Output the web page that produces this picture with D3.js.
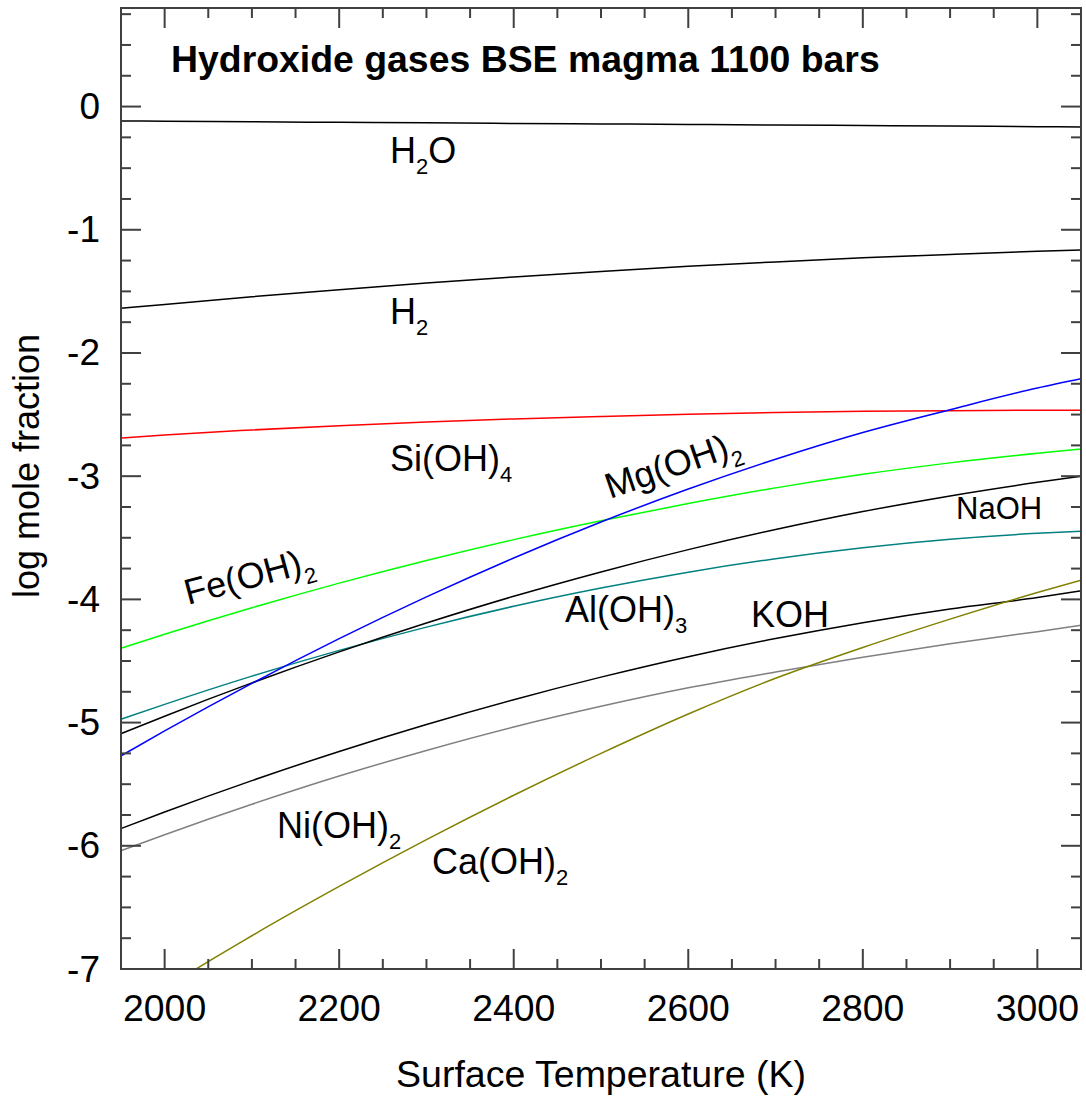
<!DOCTYPE html>
<html><head><meta charset="utf-8">
<script src="https://cdn.jsdelivr.net/npm/d3@7"></script>
<style>body{margin:0;background:#fff}svg{display:block}text{font-family:"Liberation Sans",Arial,sans-serif}</style>
</head><body>
<script>
const temps = [1950,2000,2100,2200,2300,2400,2500,2600,2700,2800,2900,3000,3050];
const h2o   = [-0.117,-0.119,-0.124,-0.128,-0.132,-0.137,-0.141,-0.145,-0.150,-0.154,-0.158,-0.163,-0.165];
const h2    = [-1.638,-1.606,-1.544,-1.486,-1.433,-1.383,-1.338,-1.297,-1.261,-1.228,-1.200,-1.175,-1.165];
const sioh4 = [-2.690,-2.665,-2.625,-2.590,-2.560,-2.535,-2.515,-2.497,-2.483,-2.474,-2.468,-2.465,-2.465];
const mgoh2 = [-5.270,-5.068,-4.682,-4.319,-3.980,-3.664,-3.372,-3.104,-2.862,-2.645,-2.460,-2.285,-2.210];
const feoh2 = [-4.396,-4.283,-4.068,-3.868,-3.684,-3.515,-3.362,-3.222,-3.095,-2.985,-2.892,-2.814,-2.779];
const naoh  = [-5.090,-4.948,-4.678,-4.426,-4.192,-3.975,-3.777,-3.596,-3.433,-3.287,-3.160,-3.050,-3.000];
const aloh3 = [-4.973,-4.852,-4.623,-4.414,-4.225,-4.056,-3.908,-3.779,-3.670,-3.581,-3.512,-3.464,-3.447];
const koh   = [-5.860,-5.726,-5.471,-5.234,-5.015,-4.814,-4.631,-4.465,-4.318,-4.189,-4.078,-3.985,-3.930];
const nioh2 = [-6.040,-5.910,-5.663,-5.434,-5.226,-5.036,-4.868,-4.718,-4.590,-4.470,-4.360,-4.262,-4.210];
const caoh2 = [-7.400,-7.160,-6.730,-6.330,-5.950,-5.590,-5.250,-4.930,-4.640,-4.390,-4.160,-3.944,-3.844];
const xTicks = [2000,2200,2400,2600,2800,3000];
const yTicks = [0,-1,-2,-3,-4,-5,-6,-7];

const series = [
  {name:"H2O", v:h2o, color:"#000000"},
  {name:"H2", v:h2, color:"#000000"},
  {name:"Si(OH)4", v:sioh4, color:"#ff0000"},
  {name:"Fe(OH)2", v:feoh2, color:"#00ff00"},
  {name:"Al(OH)3", v:aloh3, color:"#008080"},
  {name:"NaOH", v:naoh, color:"#000000"},
  {name:"Mg(OH)2", v:mgoh2, color:"#0000ff"},
  {name:"Ni(OH)2", v:nioh2, color:"#808080"},
  {name:"KOH", v:koh, color:"#000000"},
  {name:"Ca(OH)2", v:caoh2, color:"#808000"}
];

const W=1086,H=1097, L=121,T=8,R=1081,B=969;
const svg=d3.select("body").append("svg").attr("width",W).attr("height",H);
const x=d3.scaleLinear().domain([1950,3050]).range([L,R]);
const y=d3.scaleLinear().domain([-7,0.8]).range([B,T]);
const axisCol="#404040";

svg.append("defs").append("clipPath").attr("id","clip").append("rect")
  .attr("x",L).attr("y",T).attr("width",R-L).attr("height",B-T);

const line=d3.line().x((d,i)=>x(temps[i])).y(d=>y(d)).curve(d3.curveMonotoneX);
const g=svg.append("g").attr("clip-path","url(#clip)");
series.forEach(s=>{
  g.append("path").attr("d",line(s.v)).attr("fill","none").attr("stroke",s.color).attr("stroke-width",1.5);
});

// ticks: inward on all sides
const xMinor=d3.range(1950,3051,50), yMinor=d3.range(-7,0.81,0.25);
const tk=svg.append("g").attr("stroke",axisCol).attr("stroke-width",2);
xMinor.forEach(t=>{
  const len = (Math.round(t)%200===0)?20:10;
  tk.append("line").attr("x1",x(t)).attr("x2",x(t)).attr("y1",B).attr("y2",B-len);
  tk.append("line").attr("x1",x(t)).attr("x2",x(t)).attr("y1",T).attr("y2",T+len);
});
yMinor.forEach(t=>{
  const len = (Math.abs(t-Math.round(t))<1e-6)?20:10;
  tk.append("line").attr("y1",y(t)).attr("y2",y(t)).attr("x1",L).attr("x2",L+len);
  tk.append("line").attr("y1",y(t)).attr("y2",y(t)).attr("x1",R).attr("x2",R-len);
});
svg.append("rect").attr("x",L).attr("y",T).attr("width",R-L).attr("height",B-T)
  .attr("fill","none").attr("stroke",axisCol).attr("stroke-width",2);

// tick labels
xTicks.forEach(t=>svg.append("text").attr("x",x(t)).attr("y",1021).attr("text-anchor","middle")
  .attr("font-size",37.4).text(t));
yTicks.forEach(t=>svg.append("text").attr("x",100).attr("y",y(t)+12.5).attr("text-anchor","end")
  .attr("font-size",37).text(t));

svg.append("text").attr("x",601).attr("y",1087).attr("text-anchor","middle").attr("font-size",37.5)
  .text("Surface Temperature (K)");
svg.append("text").attr("transform","translate(39,466) rotate(-90)").attr("text-anchor","middle")
  .attr("font-size",36).text("log mole fraction");
svg.append("text").attr("x",171).attr("y",72).attr("font-size",37.4).attr("font-weight","bold")
  .text("Hydroxide gases BSE magma 1100 bars");

// curve labels
function lab(base, sub, after, xx, yy, rot, size){
  const t=svg.append("text").attr("font-size",size||36)
    .attr("transform",`translate(${xx},${yy}) rotate(${rot||0})`);
  t.append("tspan").text(base);
  if(sub){
    t.append("tspan").attr("font-size",22).attr("dy",11).text(sub);
    if(after) t.append("tspan").attr("dy",-11).text(after);
  }
}
lab("H","2","O",390,163);
lab("H","2","",390,324);
lab("Si(OH)","4","",390,471);
lab("Mg(OH)","2","",610,499,-19);
lab("Fe(OH)","2","",188,605,-15);
lab("Al(OH)","3","",565,622);
lab("KOH","","",751,627);
lab("NaOH","","",956,519,0,31);
lab("Ni(OH)","2","",277,838);
lab("Ca(OH)","2","",432,874);
</script>
</body></html>
